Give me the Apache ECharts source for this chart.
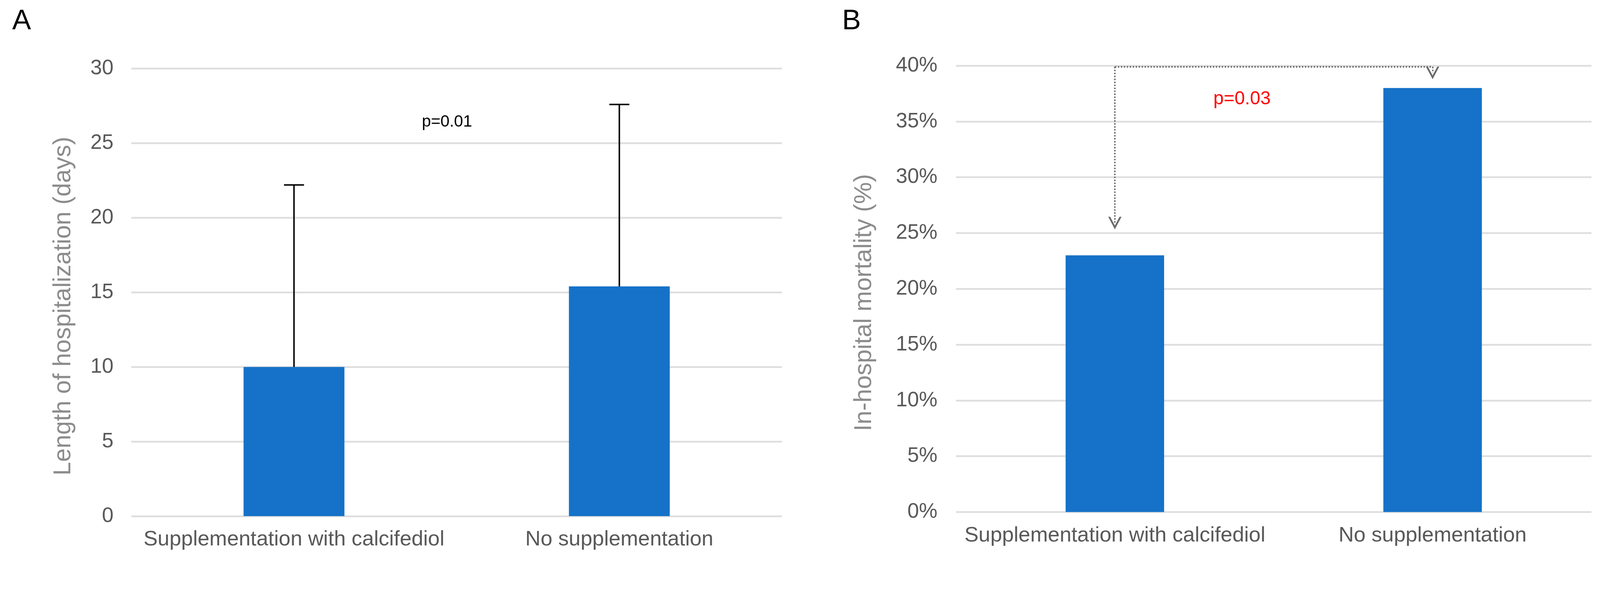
<!DOCTYPE html>
<html>
<head>
<meta charset="utf-8">
<script src="https://cdn.jsdelivr.net/npm/echarts@6/dist/echarts.min.js"></script>
<style>
html,body{margin:0;padding:0;background:#fff;overflow:hidden;}
#c{position:absolute;left:0;top:0;}
</style>
</head>
<body>
<div id="c"></div>
<script>
// ---- data ----
const categories = ['Supplementation with calcifediol', 'No supplementation'];
const stayMean = [10, 15.4];          // Length of hospitalization (days)
const stayUpper = [22.2, 27.6];       // mean + SD (error bar tops)
const mortality = [23, 38];           // In-hospital mortality (%)
const stayTicks = {min: 0, max: 30, interval: 5};
const mortTicks = {min: 0, max: 40, interval: 5};
const arrowLevel = 39.9;              // height of the comparison bracket (%)
const arrowLeftEnd = 25.9;            // end of left arrow (%)
const arrowRightEnd = 39.35;          // end of right arrow (%)
const pA = 'p=0.01';
const pB = 'p=0.03';

// ---- layout (designed for 4313 x 1528, scaled to the actual viewport) ----
const W0 = 4313, H0 = 1528;
const vw = window.innerWidth || W0, vh = window.innerHeight || H0;
const k = Math.min(vw / W0, vh / H0);
const S = v => v * k;
const dom = document.getElementById('c');
dom.style.width = Math.round(W0 * k) + 'px';
dom.style.height = Math.round(H0 * k) + 'px';

const FONT = '"Liberation Sans", Arial, Helvetica, sans-serif';
const BLUE = '#1572c8';
const GRID = '#dedede';
const LABEL = '#595959';
const TITLE = '#8c8c8c';

const chevron = 'path://M0,20 L10,0 L20,20 L17,20 L10,6 L3,20 Z';

function renderErr(params, api) {
  const x = api.value(0);
  const lo = api.coord([x, api.value(1)]);
  const hi = api.coord([x, api.value(2)]);
  const half = S(27);
  return {
    type: 'group',
    children: [
      {type: 'line', shape: {x1: lo[0], y1: lo[1], x2: hi[0], y2: hi[1]}, style: {stroke: '#000', lineWidth: S(4)}},
      {type: 'line', shape: {x1: hi[0] - half, y1: hi[1], x2: hi[0] + half, y2: hi[1]}, style: {stroke: '#000', lineWidth: S(4)}}
    ]
  };
}

const errData = categories.map((c, i) => [i, stayMean[i], stayUpper[i]]);

function xAxisCfg(gridIndex) {
  return {
    type: 'category', gridIndex: gridIndex, data: categories,
    axisLine: {show: false}, axisTick: {show: false},
    axisLabel: {fontSize: S(57), color: LABEL, fontFamily: FONT, margin: S(35), interval: 0}
  };
}

const chart = echarts.init(dom, null, {renderer: 'canvas'});
chart.setOption({
  animation: false,
  backgroundColor: '#fff',
  textStyle: {fontFamily: FONT},
  grid: [
    {left: S(354), right: S(2205), top: S(185), bottom: S(137)},
    {left: S(2577), right: S(23), top: S(177), bottom: S(148)}
  ],
  xAxis: [xAxisCfg(0), xAxisCfg(1)],
  yAxis: [
    {
      type: 'value', gridIndex: 0, min: stayTicks.min, max: stayTicks.max, interval: stayTicks.interval,
      name: 'Length of hospitalization (days)', nameLocation: 'middle', nameGap: S(150),
      nameTextStyle: {fontSize: S(66), color: TITLE, fontFamily: FONT, padding: [0, S(74), 0, 0]},
      axisLine: {show: false}, axisTick: {show: false},
      axisLabel: {fontSize: S(56), color: LABEL, fontFamily: FONT, margin: S(48)},
      splitLine: {lineStyle: {color: GRID, width: S(5)}}
    },
    {
      type: 'value', gridIndex: 1, min: mortTicks.min, max: mortTicks.max, interval: mortTicks.interval,
      name: 'In-hospital mortality (%)', nameLocation: 'middle', nameGap: S(214),
      nameTextStyle: {fontSize: S(66), color: TITLE, fontFamily: FONT, padding: [0, S(74), 0, 0]},
      axisLine: {show: false}, axisTick: {show: false},
      axisLabel: {fontSize: S(56), color: LABEL, fontFamily: FONT, margin: S(50), formatter: '{value}%'},
      splitLine: {lineStyle: {color: GRID, width: S(5)}}
    }
  ],
  series: [
    {
      type: 'bar', xAxisIndex: 0, yAxisIndex: 0, data: stayMean, barWidth: '31%',
      itemStyle: {color: BLUE}, silent: true
    },
    {
      type: 'custom', xAxisIndex: 0, yAxisIndex: 0, data: errData, renderItem: renderErr,
      encode: {x: 0, y: [1, 2]}, z: 5, silent: true
    },
    {
      type: 'bar', xAxisIndex: 1, yAxisIndex: 1, data: mortality, barWidth: '31%',
      itemStyle: {color: BLUE}, silent: true,
      markLine: {
        silent: true, animation: false,
        symbol: ['none', 'none'],
        label: {show: false},
        lineStyle: {type: 'dotted', color: '#6b6b6b', width: S(4)},
        emphasis: {disabled: true},
        data: [
          [{coord: [0, arrowLevel], symbol: 'none'}, {coord: [0, arrowLeftEnd], symbol: chevron, symbolSize: [S(36), S(34)]}],
          [{coord: [0, arrowLevel], symbol: 'none'}, {coord: [1, arrowLevel], symbol: 'none'}],
          [{coord: [1, arrowLevel], symbol: 'none'}, {coord: [1, arrowRightEnd], symbol: chevron, symbolSize: [S(36), S(34)]}]
        ]
      }
    }
  ],
  graphic: [
    {type: 'text', left: S(33), top: S(20), style: {text: 'A', fontSize: S(76), fill: '#000', fontFamily: FONT}},
    {type: 'text', left: S(2270), top: S(20), style: {text: 'B', fontSize: S(76), fill: '#000', fontFamily: FONT}},
    {type: 'text', x: S(1205), y: S(329), style: {text: pA, fontSize: S(44), fill: '#000', fontFamily: FONT, align: 'center', verticalAlign: 'middle'}},
    {type: 'text', x: S(3348), y: S(267), style: {text: pB, fontSize: S(50), fill: '#ff0000', fontFamily: FONT, align: 'center', verticalAlign: 'middle'}}
  ]
});
</script>
</body>
</html>
